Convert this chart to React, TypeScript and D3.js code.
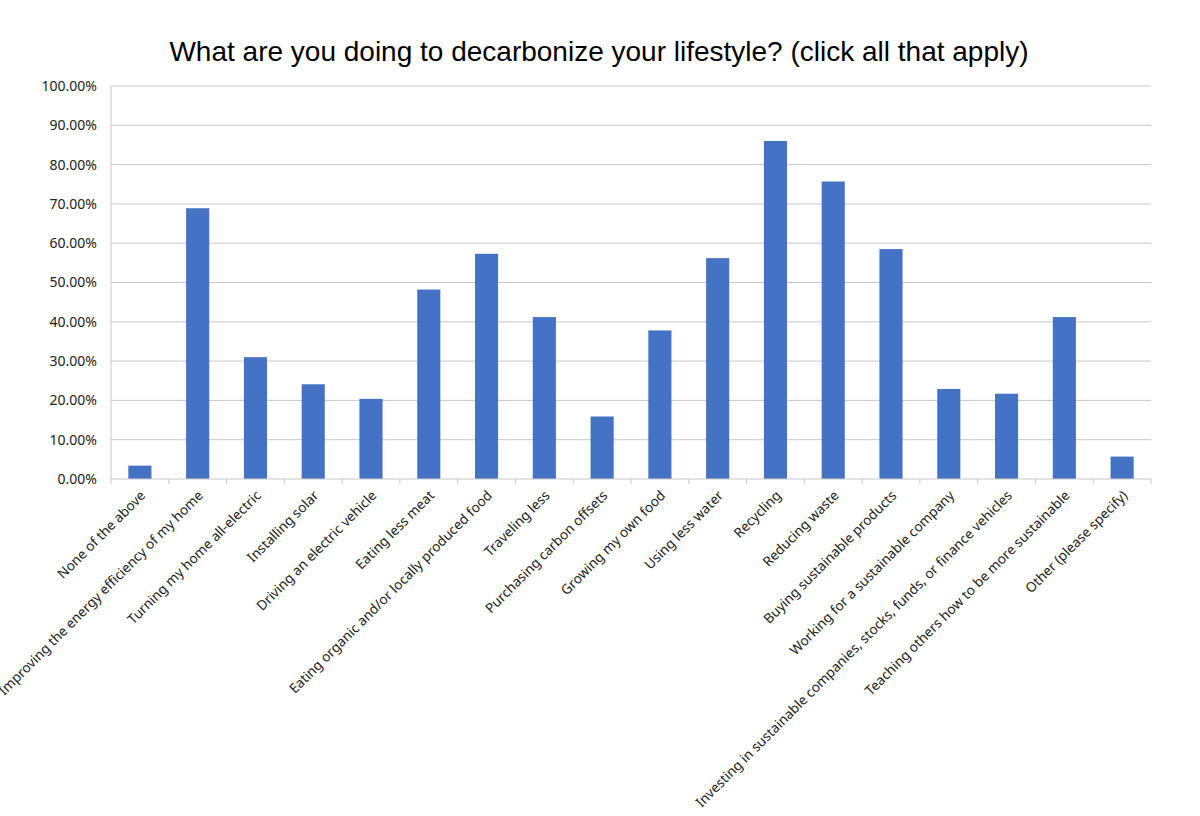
import React, { useEffect, useRef } from "react";
import * as d3 from "d3";

const categories = [
  "None of the above",
  "Improving the energy efficiency of my home",
  "Turning my home all-electric",
  "Installing solar",
  "Driving an electric vehicle",
  "Eating less meat",
  "Eating organic and/or locally produced food",
  "Traveling less",
  "Purchasing carbon offsets",
  "Growing my own food",
  "Using less water",
  "Recycling",
  "Reducing waste",
  "Buying sustainable products",
  "Working for a sustainable company",
  "Investing in sustainable companies, stocks, funds, or finance vehicles",
  "Teaching others how to be more sustainable",
  "Other (please specify)",
];

const shares = [
  0.034, 0.689, 0.31, 0.241, 0.204, 0.482, 0.573, 0.412, 0.159, 0.378, 0.562,
  0.86, 0.757, 0.585, 0.229, 0.217, 0.412, 0.057,
];

const yTicks = [0, 0.1, 0.2, 0.3, 0.4, 0.5, 0.6, 0.7, 0.8, 0.9, 1.0];

const title =
  "What are you doing to decarbonize your lifestyle? (click all that apply)";

export default function App() {
  const ref = useRef<SVGSVGElement>(null);

  useEffect(() => {
    const svg = d3.select(ref.current);
    svg.selectAll("*").remove();

    const margin = { top: 86, left: 111, right: 49, bottom: 337 };
    const width = 1200 - margin.left - margin.right;
    const height = 816 - margin.top - margin.bottom;
    const font = "'Noto Sans', 'Open Sans', sans-serif";

    svg
      .append("rect")
      .attr("width", 1200)
      .attr("height", 816)
      .attr("fill", "#ffffff");

    svg
      .append("text")
      .attr("x", 599)
      .attr("y", 61)
      .attr("text-anchor", "middle")
      .style("font-family", "'Liberation Sans', Arial, sans-serif")
      .style("font-size", "28px")
      .attr("fill", "#000")
      .text(title);

    const g = svg
      .append("g")
      .attr("transform", "translate(" + margin.left + "," + margin.top + ")");

    const x = d3
      .scaleBand()
      .domain(categories)
      .range([0, width])
      .paddingInner(0.6)
      .paddingOuter(0.3);

    const y = d3.scaleLinear().domain([0, 1]).range([height, 0]);

    // grid
    g.selectAll(".grid")
      .data(yTicks.slice(1))
      .enter()
      .append("line")
      .attr("x1", 0)
      .attr("x2", width)
      .attr("y1", (d) => y(d))
      .attr("y2", (d) => y(d))
      .attr("stroke", "#c8c8c8")
      .attr("stroke-width", 1);

    // y labels
    g.selectAll(".ylab")
      .data(yTicks)
      .enter()
      .append("text")
      .attr("x", -14)
      .attr("y", (d) => y(d))
      .attr("dy", "0.35em")
      .attr("text-anchor", "end")
      .style("font-family", font)
      .style("font-size", "14px")
      .attr("fill", "#222")
      .text((d) => d3.format(".2%")(d));

    // left axis line
    g.append("line")
      .attr("x1", 0)
      .attr("x2", 0)
      .attr("y1", 0)
      .attr("y2", height)
      .attr("stroke", "#c8c8c8");

    // bars
    g.selectAll(".bar")
      .data(shares)
      .enter()
      .append("rect")
      .attr("x", (d, i) => x(categories[i]))
      .attr("y", (d) => y(d))
      .attr("width", x.bandwidth())
      .attr("height", (d) => height - y(d))
      .attr("fill", "#4472c4");

    // bottom axis + ticks between categories
    g.append("line")
      .attr("x1", 0)
      .attr("x2", width)
      .attr("y1", height)
      .attr("y2", height)
      .attr("stroke", "#c8c8c8");

    const step = x.step();
    const start = x(categories[0]) - step * 0.3;
    g.selectAll(".xtick")
      .data(d3.range(categories.length + 1))
      .enter()
      .append("line")
      .attr("x1", (d) => start + d * step)
      .attr("x2", (d) => start + d * step)
      .attr("y1", height)
      .attr("y2", height + 5)
      .attr("stroke", "#c8c8c8");

    // rotated category labels
    g.selectAll(".xlab")
      .data(categories)
      .enter()
      .append("text")
      .attr(
        "transform",
        (d) =>
          "translate(" +
          (x(d) + x.bandwidth() / 2 + 3) +
          "," +
          (height + 14) +
          ")rotate(-45)"
      )
      .attr("text-anchor", "end")
      .attr("dy", "0.35em")
      .style("font-family", font)
      .style("font-size", "13.6px")
      .attr("fill", "#222")
      .text((d) => d);
  }, []);

  return (
    <svg
      ref={ref}
      width={1200}
      height={816}
      style={{ position: "absolute", left: 0, top: 0 }}
    />
  );
}
